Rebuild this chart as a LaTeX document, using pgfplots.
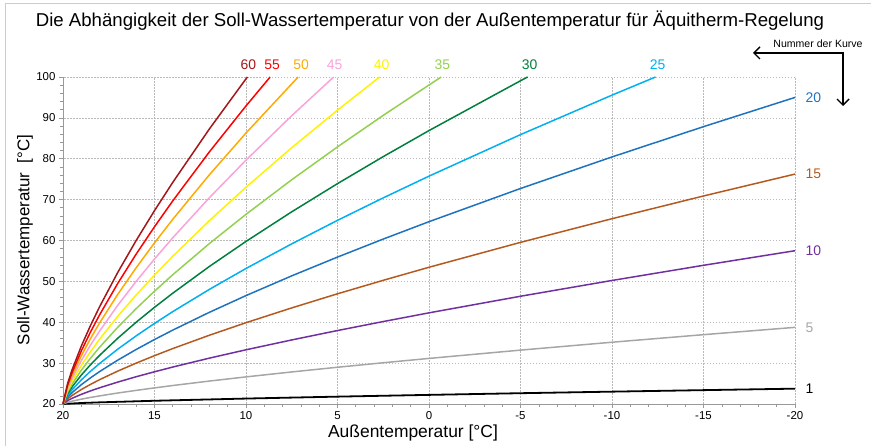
\documentclass[border=0pt]{standalone}
\usepackage{fontspec}
\setmainfont{Liberation Sans}
\usepackage{pgfplots}
\pgfplotsset{compat=1.18}
\usetikzlibrary{arrows.meta}
\definecolor{cA}{HTML}{000000}
\definecolor{cB}{HTML}{A6A6A6}
\definecolor{cC}{HTML}{7030A0}
\definecolor{cD}{HTML}{B55A1E}
\definecolor{cE}{HTML}{1E73BE}
\definecolor{cF}{HTML}{00B0F0}
\definecolor{cG}{HTML}{00803C}
\definecolor{cH}{HTML}{92D050}
\definecolor{cI}{HTML}{FFF200}
\definecolor{cJ}{HTML}{F9A3DA}
\definecolor{cK}{HTML}{FFAA00}
\definecolor{cL}{HTML}{FF0000}
\definecolor{cM}{HTML}{A3161A}
\begin{document}
\begin{tikzpicture}[x=1bp,y=1bp]
\path[use as bounding box] (0,0) rectangle (871,446);
\draw[gray!40, line width=1bp] (5,0) -- (5,442) -- (871,442);
\node[font=\fontsize{18.7}{21}\selectfont] at (430,425) {Die Abhängigkeit der Soll-Wassertemperatur von der Außentemperatur für Äquitherm-Regelung};
\node[font=\fontsize{17}{19}\selectfont, rotate=90] at (25,206) {Soll-Wassertemperatur~ [°C]};
\node[font=\fontsize{17.5}{19}\selectfont] at (413,13) {Außentemperatur [°C]};
\node[font=\fontsize{10.6}{12}\selectfont] at (818,402) {Nummer der Kurve};
\draw[line width=1.4bp, {Straight Barb[length=6bp,width=12bp]}-{Straight Barb[length=6bp,width=12bp]}] (753,393) -- (843,393) -- (843,340);
\begin{axis}[
  at={(63bp,42bp)}, anchor=south west, scale only axis,
  width=732bp, height=327bp,
  x dir=reverse, xmin=-20, xmax=20, ymin=20, ymax=100,
  xtick={-20,-15,...,20}, ytick={20,30,...,100},
  minor x tick num=4, minor y tick num=4,
  axis x line*=bottom, axis y line*=left,
  axis line style={gray!80, line width=0.8bp},
  every tick/.style={gray!80, line width=0.6bp},
  tick align=outside,
  major tick length=4bp, minor tick length=3bp,
  grid=major,
  major grid style={gray!55, line width=0.6bp, dash pattern=on 1.5bp off 1.5bp},
  tick label style={font=\fontsize{11.5}{13}\selectfont},
  /pgf/number format/assume math mode=true,
  clip=false,
  every axis plot/.append style={line width=1.5bp, line join=round},
]
\addplot[cA, line width=1.8bp] coordinates {(20,20) (19,20.24) (18,20.40) (15,20.79) (10,21.33) (5,21.80) (0,22.23) (-5,22.64) (-10,23.02) (-15,23.39) (-20,23.75)};
\addplot[cB] coordinates {(20,20) (19.75,20.42) (19.5,20.70) (19,21.18) (18.5,21.60) (18,21.98) (17,22.69) (16,23.33) (15,23.94) (14,24.52) (12,25.61) (10,26.63) (7.5,27.84) (5,28.99) (2.5,30.09) (0,31.15) (-5,33.18) (-10,35.11) (-15,36.96) (-20,38.75)};
\addplot[cC] coordinates {(20,20) (19.75,20.83) (19.5,21.40) (19,22.36) (18.5,23.20) (18,23.97) (17,25.37) (16,26.67) (15,27.88) (14,29.04) (12,31.22) (10,33.26) (7.5,35.67) (5,37.97) (2.5,40.17) (0,42.30) (-5,46.36) (-10,50.22) (-15,53.93) (-20,57.50)};
\addplot[cD] coordinates {(20,20) (19.75,21.25) (19.5,22.10) (19,23.54) (18.5,24.79) (18,25.95) (17,28.06) (16,30.00) (15,31.82) (14,33.56) (12,36.82) (10,39.89) (7.5,43.51) (5,46.96) (2.5,50.26) (0,53.45) (-5,59.54) (-10,65.33) (-15,70.89) (-20,76.25)};
\addplot[cE] coordinates {(20,20) (19.75,21.67) (19.5,22.80) (19,24.72) (18.5,26.39) (18,27.93) (17,30.75) (16,33.34) (15,35.77) (14,38.08) (12,42.43) (10,46.52) (7.5,51.35) (5,55.94) (2.5,60.35) (0,64.60) (-5,72.72) (-10,80.44) (-15,87.85) (-20,95.00)};
\addplot[cF] coordinates {(20,20) (19.75,22.08) (19.5,23.50) (19,25.89) (18.5,27.99) (18,29.91) (17,33.44) (16,36.67) (15,39.71) (14,42.60) (12,48.04) (10,53.15) (7.5,59.18) (5,64.93) (2.5,70.43) (0,75.74) (-5,85.90) (-10,95.56) (-12.38,100)};
\addplot[cG] coordinates {(20,20) (19.75,22.50) (19.5,24.20) (19,27.07) (18.5,29.59) (18,31.90) (17,36.12) (16,40.01) (15,43.65) (14,47.11) (12,53.65) (10,59.77) (7.5,67.02) (5,73.91) (2.5,80.52) (0,86.89) (-5,99.08) (-5.39,100)};
\addplot[cH] coordinates {(20,20) (19.75,22.92) (19.5,24.90) (19,28.25) (18.5,31.19) (18,33.88) (17,38.81) (16,43.34) (15,47.59) (14,51.63) (12,59.25) (10,66.40) (7.5,74.86) (5,82.90) (2.5,90.61) (0,98.04) (-0.67,100)};
\addplot[cI] coordinates {(20,20) (19.75,23.33) (19.5,25.61) (19,29.43) (18.5,32.78) (18,35.86) (17,41.50) (16,46.67) (15,51.53) (14,56.15) (12,64.86) (10,73.03) (7.5,82.70) (5,91.88) (2.70,100)};
\addplot[cJ] coordinates {(20,20) (19.75,23.75) (19.5,26.31) (19,30.61) (18.5,34.38) (18,37.84) (17,44.19) (16,50.01) (15,55.47) (14,60.67) (12,70.47) (10,79.66) (7.5,90.53) (5.21,100)};
\addplot[cK] coordinates {(20,20) (19.75,24.17) (19.5,27.01) (19,31.79) (18.5,35.98) (18,39.83) (17,46.87) (16,53.34) (15,59.42) (14,65.19) (12,76.08) (10,86.29) (7.15,100)};
\addplot[cL] coordinates {(20,20) (19.75,24.58) (19.5,27.71) (19,32.97) (18.5,37.58) (18,41.81) (17,49.56) (16,56.68) (15,63.36) (14,69.71) (12,81.68) (10,92.92) (8.68,100)};
\addplot[cM] coordinates {(20,20) (19.75,25.00) (19.5,28.41) (19,34.15) (18.5,39.17) (18,43.79) (17,52.25) (16,60.01) (15,67.30) (14,74.23) (12,87.29) (10,99.55) (9.92,100)};
\begin{scope}[every node/.style={font=\fontsize{14}{16}\selectfont}]
\node[anchor=west, text=cA, xshift=7bp] at (axis cs:-20,23.75) {1};
\node[anchor=west, text=cB, xshift=7bp] at (axis cs:-20,38.75) {5};
\node[anchor=west, text=cC, xshift=7bp] at (axis cs:-20,57.5) {10};
\node[anchor=west, text=cD, xshift=7bp] at (axis cs:-20,76.25) {15};
\node[anchor=west, text=cE, xshift=7bp] at (axis cs:-20,95) {20};
\node[anchor=base, text=cF, yshift=7bp, xshift=2bp] at (axis cs:-12.38,100) {25};
\node[anchor=base, text=cG, yshift=7bp, xshift=2bp] at (axis cs:-5.39,100) {30};
\node[anchor=base, text=cH, yshift=7bp, xshift=1bp] at (axis cs:-0.67,100) {35};
\node[anchor=base, text=cI, yshift=7bp, xshift=2bp] at (axis cs:2.70,100) {40};
\node[anchor=base, text=cJ, yshift=7bp, xshift=1bp] at (axis cs:5.21,100) {45};
\node[anchor=base, text=cK, yshift=7bp, xshift=3bp] at (axis cs:7.15,100) {50};
\node[anchor=base, text=cL, yshift=7bp, xshift=2bp] at (axis cs:8.68,100) {55};
\node[anchor=base, text=cM, yshift=7bp, xshift=1bp] at (axis cs:9.92,100) {60};
\end{scope}
\end{axis}
\end{tikzpicture}
\end{document}
